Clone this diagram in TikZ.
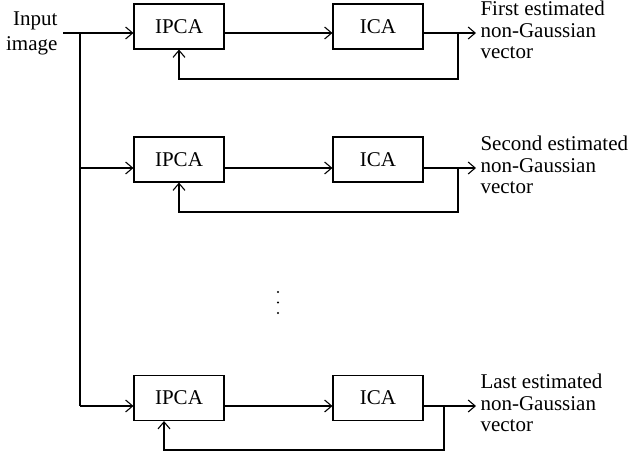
\documentclass[tikz,border=0pt]{standalone}
\usepackage{fontspec}
\setmainfont{Liberation Serif}
\usetikzlibrary{arrows.meta}
\begin{document}
\begin{tikzpicture}[x=1pt,y=-1pt,line width=1.1pt,
 >={Straight Barb[length=7pt,width=12pt]},
 box/.style={draw,minimum width=90pt,minimum height=45pt,inner sep=0pt,font=\fontsize{21}{21.5}\selectfont},
 outtext/.style={anchor=west,align=left,inner sep=4pt,font=\fontsize{21}{21.5}\selectfont}]
 \useasboundingbox (0,0) rectangle (633,456);
 \node[anchor=east,align=right,inner sep=5pt,font=\fontsize{21}{25}\selectfont] (input) at (63,33) {Input\\image};
 \coordinate (sp1) at (80,33);
 \coordinate (sp2) at (80,168);
 \coordinate (sp3) at (80,406);
 \node[box] (ipca1) at (179,26.5) {IPCA};
 \node[box] (ica1) at (378,26.5) {ICA};
 \node[box] (ipca2) at (179,159.5) {IPCA};
 \node[box] (ica2) at (378,159.5) {ICA};
 \node[box] (ipca3) at (179,398) {IPCA};
 \node[box] (ica3) at (378,398) {ICA};
 \node[outtext] (out1) at (476,30) {First estimated\\non-Gaussian\\vector};
 \node[outtext] (out2) at (476,165) {Second estimated\\non-Gaussian\\vector};
 \node[outtext] (out3) at (476,403) {Last estimated\\non-Gaussian\\vector};
 \coordinate (fb1) at (458,79);
 \coordinate (fb2) at (458,212);
 \coordinate (fb3) at (444,450);
 % input branches
 \draw (input.east |- sp1) -- (sp1);
 \draw (sp1) -- (sp3);
 \draw[->] (sp1) -- (sp1 -| ipca1.west);
 \draw[->] (sp2) -- (sp2 -| ipca2.west);
 \draw[->] (sp3) -- (sp3 -| ipca3.west);
 % first row
 \draw[->] (sp1 -| ipca1.east) -- (sp1 -| ica1.west);
 \draw[->] (sp1 -| ica1.east) -- (out1.west |- sp1);
 \draw[->] (fb1 |- sp1) -- (fb1) -| (ipca1.south);
 % second row
 \draw[->] (sp2 -| ipca2.east) -- (sp2 -| ica2.west);
 \draw[->] (sp2 -| ica2.east) -- (out2.west |- sp2);
 \draw[->] (fb2 |- sp2) -- (fb2) -| (ipca2.south);
 % last row
 \draw[->] (sp3 -| ipca3.east) -- (sp3 -| ica3.west);
 \draw[->] (sp3 -| ica3.east) -- (out3.west |- sp3);
 \draw[->] (fb3 |- sp3) -- (fb3) -| ([xshift=-15pt]ipca3.south);
 % dots
 \fill (278,292) circle (1.2pt);
 \fill (278,302.5) circle (1.2pt);
 \fill (278,313) circle (1.2pt);
\end{tikzpicture}
\end{document}
